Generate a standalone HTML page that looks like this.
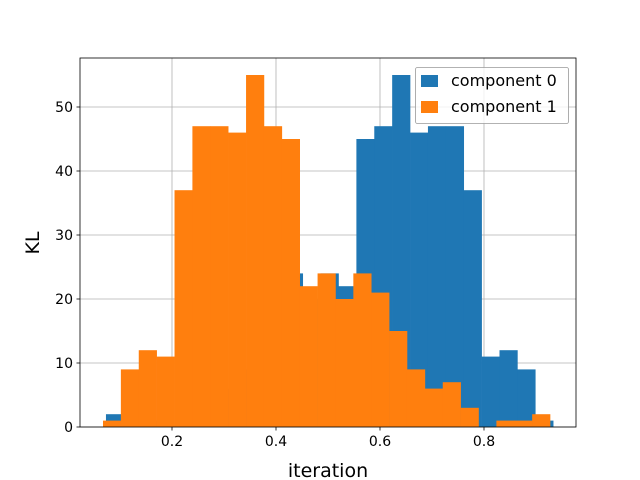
<!DOCTYPE html>
<html><head><meta charset="utf-8"><style>body{margin:0;background:#fff}svg{display:block;font-family:"DejaVu Sans","Liberation Sans",sans-serif}</style></head>
<body>
<svg id="chart" width="640" height="480"></svg>
<script>
const counts0 = [2,1,1,0,3,7,6,9,15,21,24,20,24,22,45,47,55,46,47,47,37,11,12,9,1];
const counts1 = [1,9,12,11,37,47,47,46,55,47,45,22,24,20,24,21,15,9,6,7,3,0,1,1,2];
const range0 = [0.073, 0.933];
const range1 = [0.0673, 0.927];
const xTicks = [0.2,0.4,0.6,0.8];
const yTicks = [0,10,20,30,40,50];
const seriesNames = ["component 0","component 1"];
const colors = ["#1f77b4","#ff7f0e"];
const L=80,R=576,T=58,B=427;
const xs = v => 68 + v*520;
const ys = v => B - v*6.4;
const svg=document.getElementById('chart');
const NS='http://www.w3.org/2000/svg';
function el(t,a,p){const e=document.createElementNS(NS,t);for(const k in a)e.setAttribute(k,a[k]);(p||svg).appendChild(e);return e;}
// grid
xTicks.forEach(t=>{const g=el('line',{x1:xs(t),x2:xs(t),y1:T,y2:B,stroke:'#b0b0b0','stroke-width':0.8});

});
yTicks.forEach(t=>{const g=el('line',{x1:L,x2:R,y1:ys(t),y2:ys(t),stroke:'#b0b0b0','stroke-width':0.8});

});
function drawHist(counts,range,color,name){
 const w=(range[1]-range[0])/counts.length;
 counts.forEach((c,i)=>{if(c<=0)return;
  const x0=xs(range[0]+i*w),x1=xs(range[0]+(i+1)*w);
  const r=el('rect',{x:x0,y:ys(c),width:x1-x0+0.3,height:ys(0)-ys(c),fill:color});
  
  });
}
drawHist(counts0,range0,colors[0],'component-0');
drawHist(counts1,range1,colors[1],'component-1');
// frame
const f=el('rect',{x:L,y:T,width:R-L,height:B-T,fill:'none',stroke:'#000','stroke-width':0.8});


xTicks.forEach(t=>{el('line',{x1:xs(t),x2:xs(t),y1:B,y2:B+3.5,stroke:'#000','stroke-width':0.8});
 const tx=el('text',{x:xs(t),y:B+19,'text-anchor':'middle','font-size':14});tx.textContent=t.toFixed(1);
 
 });
yTicks.forEach(t=>{el('line',{x1:L-3.5,x2:L,y1:ys(t),y2:ys(t),stroke:'#000','stroke-width':0.8});
 const tx=el('text',{x:L-7,y:ys(t)+5,'text-anchor':'end','font-size':14});tx.textContent=t;
 
 });
const xl=el('text',{x:328,y:477,'text-anchor':'middle','font-size':19});xl.textContent='iteration';


const yl=el('text',{x:39,y:243,'text-anchor':'middle','font-size':19,transform:'rotate(-90 39 243)'});yl.textContent='KL';


// legend
const lg=el('g',{});


el('rect',{x:415.5,y:67.5,width:153,height:56,rx:2,fill:'#fff','fill-opacity':0.8,stroke:'#999','stroke-width':0.8},lg);
seriesNames.forEach((n,i)=>{
 el('rect',{x:421,y:75+i*26,width:17,height:12,fill:colors[i]},lg);
 const tx=el('text',{x:451,y:86+i*26,'font-size':16},lg);tx.textContent=n;
 
 });
</script>
</body></html>
